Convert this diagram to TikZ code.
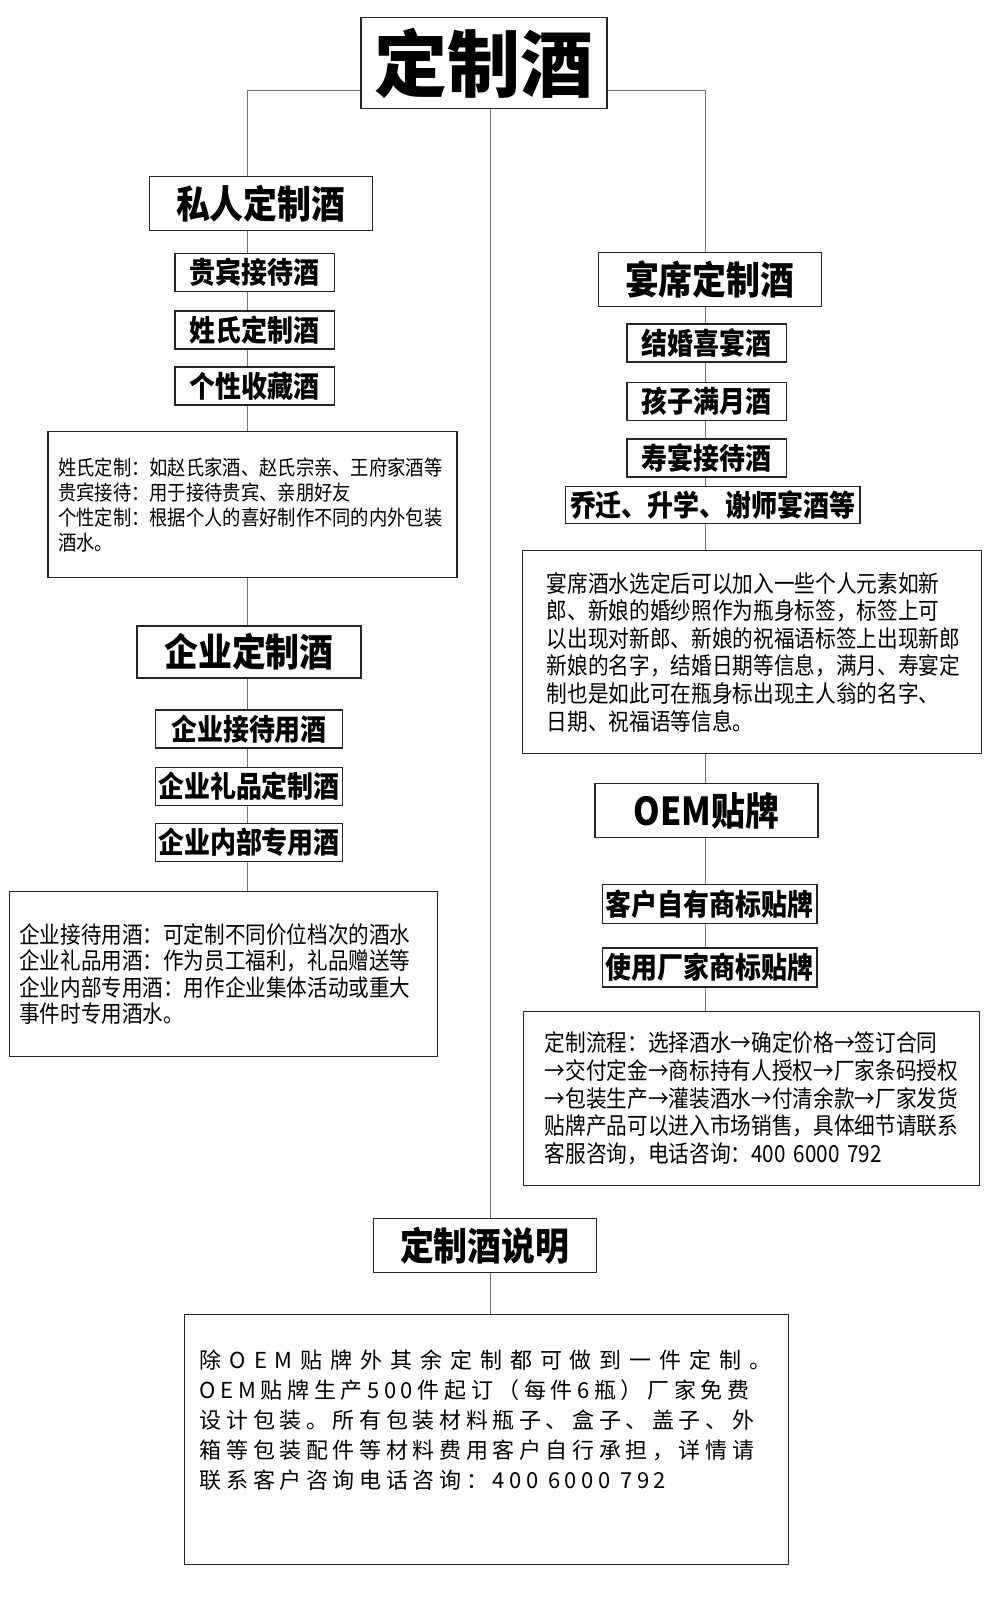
\documentclass[tikz,border=0pt]{standalone}
\usepackage{fontspec}
\usepackage{tikz}
\setmainfont{Noto Sans CJK SC}
\newfontfamily\condensedcjk{Noto Sans CJK SC}[FakeStretch=0.88]
\newfontfamily\spacedcjk{Noto Sans CJK SC}[LetterSpace=21]

\tikzset{
    link/.style={draw=black!55, line width=1pt},
    titlebox/.style={draw=black!85, line width=1.5pt, inner sep=0pt,
        font=\bfseries\fontsize{73}{80}\selectfont},
    headbox/.style={draw=black!85, line width=1.5pt, inner sep=0pt,
        minimum width=223pt, minimum height=54pt,
        font=\condensedcjk\bfseries\fontsize{38.5}{44}\selectfont},
    itembox/.style={draw=black!85, line width=1.5pt, inner sep=0pt,
        minimum height=38pt,
        font=\condensedcjk\bfseries\fontsize{29.5}{34}\selectfont},
    notebox/.style={draw=black!85, line width=1.3pt, inner ysep=0pt,
        align=left},
}

\begin{document}
\begin{tikzpicture}[x=1pt, y=-1pt]
    \useasboundingbox (0,0) rectangle (990,1604);

    \node[titlebox, minimum width=246pt, minimum height=91pt] (title) at (484,63) {定制酒};

    % left column
    \node[headbox] (priv) at (260.8,203.5) {私人定制酒};
    \node[itembox, minimum width=159.5pt] (p1) at (254.6,272.6) {贵宾接待酒};
    \node[itembox, minimum width=159.5pt] (p2) at (254.6,329.8) {姓氏定制酒};
    \node[itembox, minimum width=159.5pt] (p3) at (254.6,386) {个性收藏酒};
    \node[notebox, inner xsep=10pt, text width=389pt, minimum height=146pt,
        font=\condensedcjk\fontsize{20.8}{25}\selectfont] (note1) at (252.6,504.7)
        {姓氏定制：如赵氏家酒、赵氏宗亲、王府家酒等\\
         贵宾接待：用于接待贵宾、亲朋好友\\
         个性定制：根据个人的喜好制作不同的内外包装\\
         酒水。};
    \node[headbox, minimum width=224pt, minimum height=52pt] (corp) at (249,652) {企业定制酒};
    \node[itembox, minimum width=187pt] (c1) at (249,729.2) {企业接待用酒};
    \node[itembox, minimum width=187pt] (c2) at (249,786.5) {企业礼品定制酒};
    \node[itembox, minimum width=187pt] (c3) at (249,842.7) {企业内部专用酒};
    \node[notebox, inner xsep=10pt, text width=408.5pt, minimum height=164.6pt,
        font=\condensedcjk\fontsize{23.4}{26.3}\selectfont] (note2) at (223.5,974.1)
        {企业接待用酒：可定制不同价位档次的酒水\\
         企业礼品用酒：作为员工福利，礼品赠送等\\
         企业内部专用酒：用作企业集体活动或重大\\
         事件时专用酒水。};

    % right column
    \node[headbox] (banq) at (709.8,279.7) {宴席定制酒};
    \node[itembox, minimum width=159.6pt] (b1) at (706.7,343.1) {结婚喜宴酒};
    \node[itembox, minimum width=159.6pt] (b2) at (706.7,401.4) {孩子满月酒};
    \node[itembox, minimum width=159.6pt] (b3) at (706.7,458.2) {寿宴接待酒};
    \node[itembox, minimum width=294.6pt, minimum height=37pt] (b4) at (712.8,505.2) {乔迁、升学、谢师宴酒等};
    \node[notebox, inner xsep=24pt, text width=411pt, minimum height=203.5pt,
        font=\condensedcjk\fontsize{23.5}{27.6}\selectfont] (note3) at (752.2,652)
        {宴席酒水选定后可以加入一些个人元素如新\\
         郎、新娘的婚纱照作为瓶身标签，标签上可\\
         以出现对新郎、新娘的祝福语标签上出现新郎\\
         新娘的名字，结婚日期等信息，满月、寿宴定\\
         制也是如此可在瓶身标出现主人翁的名字、\\
         日期、祝福语等信息。};
    \node[headbox] (oem) at (706.7,810.5) {OEM贴牌};
    \node[itembox, minimum width=214.7pt, minimum height=39pt] (o1) at (709.8,904) {客户自有商标贴牌};
    \node[itembox, minimum width=214.7pt, minimum height=39pt] (o2) at (709.8,967.5) {使用厂家商标贴牌};
    \node[notebox, inner xsep=21pt, text width=414pt, minimum height=174pt,
        font=\condensedcjk\fontsize{23.5}{27.6}\selectfont] (note4) at (751.7,1098.4)
        {定制流程：选择酒水→确定价格→签订合同\\
         →交付定金→商标持有人授权→厂家条码授权\\
         →包装生产→灌装酒水→付清余款→厂家发货\\
         贴牌产品可以进入市场销售，具体细节请联系\\
         客服咨询，电话咨询：400 6000 792};

    % bottom
    \node[headbox] (explain) at (484.8,1245.6) {定制酒说明};
    \node[draw=black!85, line width=1.3pt, minimum width=604pt, minimum height=250.5pt] (note5) at (486.3,1439.5) {};
    \node[anchor=north west, inner sep=0pt, align=left,
        font=\spacedcjk\fontsize{22}{30}\selectfont] (note5text) at ([shift={(16,36)}]note5.north west)
        {{\addfontfeature{LetterSpace=36}除OEM贴牌外其余定制都可做到一件定制。}\\
         OEM贴牌生产500件起订（每件6瓶）厂家免费\\
         设计包装。所有包装材料瓶子、盒子、盖子、外\\
         箱等包装配件等材料费用客户自行承担，详情请\\
         联系客户咨询电话咨询：400 6000 792};

    % connectors
    \coordinate (lbend) at (247.5,90);
    \coordinate (rbend) at (705.7,90);
    \coordinate (cline) at (490,0);
    \draw[link] (title.west |- lbend) -- (lbend) -- (lbend |- priv.north);
    \draw[link] (title.east |- rbend) -- (rbend) -- (rbend |- banq.north);
    \foreach \a/\b in {priv/p1, p1/p2, p2/p3, p3/note1, note1/corp, corp/c1, c1/c2, c2/c3, c3/note2} {
        \draw[link] (\a.south -| lbend) -- (\b.north -| lbend);
    }
    \foreach \a/\b in {banq/b1, b1/b2, b2/b3, b3/b4, b4/note3, note3/oem, oem/o1, o1/o2, o2/note4} {
        \draw[link] (\a.south -| rbend) -- (\b.north -| rbend);
    }
    \draw[link] (title.south -| cline) -- (explain.north -| cline);
    \draw[link] (explain.south -| cline) -- (note5.north -| cline);
\end{tikzpicture}
\end{document}
